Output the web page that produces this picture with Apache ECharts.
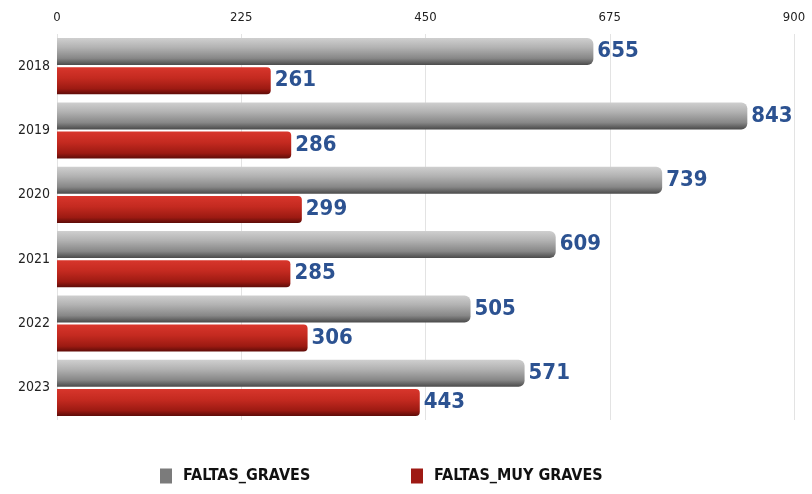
<!DOCTYPE html>
<html>
<head>
<meta charset="utf-8">
<script src="https://cdn.jsdelivr.net/npm/echarts@6/dist/echarts.min.js"></script>
<style>
  html, body { margin: 0; padding: 0; background: #fff; }
  #chart { width: 812px; height: 494px; }
</style>
</head>
<body>
<div id="chart"></div>
<script>
const years = ['2018', '2019', '2020', '2021', '2022', '2023']
const faltasGraves = [655, 843, 739, 609, 505, 571]
const faltasMuyGraves = [261, 286, 299, 285, 306, 443]
const axisTicks = [0, 225, 450, 675, 900]

const narrow = '"DejaVu Sans Condensed", "Liberation Sans Narrow", sans-serif'

const grayFill = new echarts.graphic.LinearGradient(0, 0, 0, 1, [
  { offset: 0, color: '#cfcfcf' },
  { offset: 0.35, color: '#b2b2b2' },
  { offset: 0.75, color: '#878787' },
  { offset: 1, color: '#4a4a4a' }
])
const redFill = new echarts.graphic.LinearGradient(0, 0, 0, 1, [
  { offset: 0, color: '#d8362c' },
  { offset: 0.4, color: '#c42a20' },
  { offset: 0.8, color: '#9c1a12' },
  { offset: 1, color: '#5e0c08' }
])

const valueLabel = {
  show: true,
  position: 'right',
  distance: 4,
  color: '#2c5291',
  fontSize: 22,
  fontWeight: 'bold',
  fontFamily: narrow
}

const legendText = { fontSize: 16, fontWeight: 'bold', color: '#111', fontFamily: narrow, padding: [0, 0, 0, 6] }

const chart = echarts.init(document.getElementById('chart'))

chart.setOption({
  animation: false,
  grid: { left: 57, right: 18, top: 34, bottom: 74 },
  legend: [
    {
      left: 155, bottom: 5,
      icon: 'rect', itemWidth: 12, itemHeight: 15,
      textStyle: legendText,
      data: [{ name: 'FALTAS_GRAVES', itemStyle: { color: '#7b7b7b' } }]
    },
    {
      left: 406, bottom: 5,
      icon: 'rect', itemWidth: 12, itemHeight: 15,
      textStyle: legendText,
      data: [{ name: 'FALTAS_MUY GRAVES', itemStyle: { color: '#9e1a14' } }]
    }
  ],
  xAxis: {
    type: 'value',
    position: 'top',
    min: axisTicks[0],
    max: axisTicks[axisTicks.length - 1],
    interval: axisTicks[1] - axisTicks[0],
    axisLine: { show: false },
    axisTick: { show: false },
    axisLabel: { color: '#222', fontSize: 13, fontFamily: narrow, margin: 10 },
    splitLine: { lineStyle: { color: '#e3e3e3', width: 1 } }
  },
  yAxis: {
    type: 'category',
    data: years,
    inverse: true,
    axisLine: { show: false },
    axisTick: { show: false },
    axisLabel: { color: '#222', fontSize: 14, fontFamily: narrow, margin: 7 }
  },
  series: [
    {
      name: 'FALTAS_GRAVES',
      type: 'bar',
      data: faltasGraves,
      barWidth: 27,
      barGap: '8%',
      itemStyle: { color: grayFill, borderRadius: [0, 6, 6, 0] },
      label: valueLabel
    },
    {
      name: 'FALTAS_MUY GRAVES',
      type: 'bar',
      data: faltasMuyGraves,
      barWidth: 27,
      itemStyle: { color: redFill, borderRadius: [0, 4, 4, 0] },
      label: valueLabel
    }
  ]
})
</script>
</body>
</html>
